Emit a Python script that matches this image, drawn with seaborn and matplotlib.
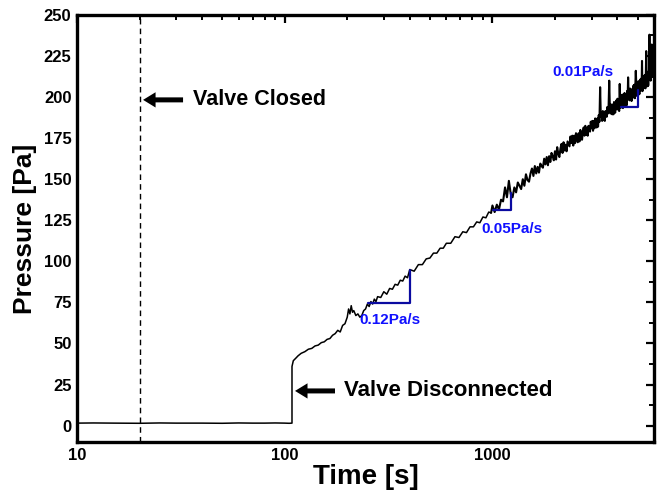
import numpy as np
import pandas as pd
import matplotlib
matplotlib.use("Agg")
import matplotlib.pyplot as plt
import seaborn as sns
from matplotlib.ticker import FixedLocator, MultipleLocator, LogLocator, NullFormatter

# ---------------- data ----------------
t_flat = [10, 12, 15, 20, 25, 30, 40, 50, 60, 70, 80, 90, 100, 105, 108.4]
p_flat = [1.5, 1.6, 1.5, 1.4, 1.6, 1.5, 1.5, 1.4, 1.6, 1.5, 1.5, 1.6, 1.5, 1.4, 1.5]

t_rise = [108.4, 110, 113, 116, 120, 125, 130, 135, 140, 145, 150, 155, 160, 165, 170,
          175, 180, 185, 190, 195, 200, 203, 206, 209, 212, 215, 220, 225, 230, 235,
          240, 245, 250, 255, 260, 265, 270, 275, 280, 290, 300, 310, 320, 330, 340,
          350, 360, 370, 380, 390, 400, 420, 440, 460, 480, 500, 520, 540, 560, 580,
          600, 630, 660, 690, 720, 750, 780, 810, 840, 870, 900, 930, 960, 985]
p_rise = [36, 39.5, 41, 42.5, 44, 45, 46.5, 47, 48.5, 49, 50.5, 51, 52.5, 53, 55,
          56, 58, 57, 61, 62, 66, 71, 68, 73, 69, 70, 67, 68, 66, 67,
          70, 71, 74, 72.5, 75.5, 74, 77, 75.5, 78.5, 78, 81.5, 80, 83.5, 83, 86,
          85.5, 88.5, 88, 91, 90, 95, 94, 98, 98, 101.5, 102, 105, 105, 108, 108,
          111, 111, 115, 114.5, 118, 117.5, 121, 121, 124, 123.5, 127, 126.5, 130, 129.5]

# late segment sampled every 25 s from 1000 s to 5900 s
t_late_start, t_late_step = 1000, 25
p_late = [134, 130, 134.5, 131.5, 137.5, 136.5, 145, 139,
          149, 141, 139, 145, 142, 148, 146, 144,
          150, 146, 153, 149.5, 148.5, 153.5, 156.5, 152,
          158, 153.5, 157.5, 154, 159.5, 158, 157, 162.5,
          159, 163.5, 158.5, 164, 160.5, 166, 164, 161.5,
          167, 162, 169.5, 165.5, 163.5, 168.5, 171.5, 166,
          172.5, 167.5, 171, 167, 173, 171.5, 170, 176,
          172, 176.5, 170.5, 176.5, 172, 178, 175.5, 172.5,
          178, 173, 180, 176, 174, 179, 181.5, 176.5,
          182.5, 177, 181, 176.5, 182.5, 181, 179, 185,
          181, 185.5, 179.5, 185.5, 181, 187, 184.5, 181.5,
          187, 182, 189, 185, 206, 188, 190.5, 185.5,
          191.5, 186, 190, 185.5, 191.5, 190, 188, 194,
          190, 194.5, 210, 194, 190, 195.5, 192.5, 189.5,
          195.5, 189.5, 197, 192.5, 190.5, 195.5, 198, 192.5,
          199, 192.5, 197, 191.5, 208, 196.3, 193.5, 201,
          195.5, 201.5, 193.3, 200.6, 195.2, 202.5, 198.5, 194.6,
          201.8, 195, 203.7, 198.4, 212, 201.7, 204.7, 198,
          205.2, 198.5, 202.9, 197.6, 204.8, 202.3, 199.7, 207,
          201.6, 207.5, 199.3, 206.6, 216, 208.5, 204.5, 200.6,
          207.8, 201, 209.7, 204.4, 201.8, 207.7, 210.7, 204,
          211.2, 204.5, 222, 203.6, 210.8, 208.3, 205.7, 213,
          207.6, 213.5, 205.3, 212.6, 228, 214.5, 210.5, 206.6,
          213.8, 207, 215.7, 210.4, 238, 213.7, 216.7, 210,
          220, 213.5, 232, 212.5, 222]
t_late = list(t_late_start + t_late_step * np.arange(len(p_late)))

# slope triangles and labels
tri_x = [[252, 401, 401], [1003, 1229, 1229], [4147, 5005, 5005]]
tri_y = [[74.7, 74.7, 94.8], [131.3, 131.3, 141.7], [194.2, 194.2, 204.4]]
slope_labels = ["0.12Pa/s", "0.05Pa/s", "0.01Pa/s"]
slope_label_pos = [(230, 64.3), (887, 119.5), (1950, 215.5)]

valve_closed_t = 20
y_ticks = [0, 25, 50, 75, 100, 125, 150, 175, 200, 225, 250]
x_ticks = [10, 100, 1000]
x_ticklabels = ["10", "100", "1000"]

# ---------------- plotting ----------------
sns.set_theme(style="white")
plt.rcParams['font.family'] = ['Liberation Sans', 'DejaVu Sans']
plt.rcParams['font.weight'] = 'bold'
plt.rcParams['text.color'] = 'black'
plt.rcParams['axes.labelcolor'] = 'black'
plt.rcParams['xtick.color'] = 'black'
plt.rcParams['ytick.color'] = 'black'

df_early = pd.DataFrame({"t": list(t_flat) + list(t_rise),
                         "p": list(p_flat) + list(p_rise)})
df_late = pd.DataFrame({"t": [t_rise[-1]] + t_late, "p": [p_rise[-1]] + list(p_late)})

fig = plt.figure(figsize=(6.61, 4.92), dpi=100)
ax = fig.add_axes([0.1165, 0.1016, 0.873, 0.868])

sns.lineplot(data=df_early, x="t", y="p", ax=ax, color="black", linewidth=1.1,
             estimator=None, sort=False)
sns.lineplot(data=df_late, x="t", y="p", ax=ax, color="black", linewidth=1.5,
             estimator=None, sort=False)

ax.set_xscale("log")
ax.set_xlim(10, 6000)
ax.set_ylim(-10, 250)

ax.axvline(valve_closed_t, color="black", lw=1.0, ls=(0, (4, 3)))

blue_line = "#0a0aa0"
blue_text = "#1010ff"
for xs, ys in zip(tri_x, tri_y):
    sns.lineplot(x=xs, y=ys, ax=ax, color=blue_line, lw=1.6, estimator=None, sort=False)
for lab, (lx, ly) in zip(slope_labels, slope_label_pos):
    ax.text(lx, ly, lab, color=blue_text, fontsize=11, fontweight="bold",
            ha="left", va="center")

arrow_style = dict(arrowstyle="simple,head_length=0.45,head_width=0.55,tail_width=0.18",
                   color="black", lw=0, mutation_scale=20, shrinkA=0, shrinkB=0)
ax.annotate("", xy=(20.8, 198.3), xytext=(32.4, 198.3), arrowprops=arrow_style)
ax.text(36.2, 198.3, "Valve Closed", fontsize=15.5, fontweight="bold",
        color="black", ha="left", va="center")
ax.annotate("", xy=(112.1, 21.1), xytext=(174.6, 21.1), arrowprops=arrow_style)
ax.text(193, 21.1, "Valve Disconnected", fontsize=16, fontweight="bold",
        color="black", ha="left", va="center")

ax.set_xlabel("Time [s]", fontsize=20, fontweight="bold", labelpad=1, color="black")
ax.set_ylabel("Pressure [Pa]", fontsize=19, fontweight="bold", labelpad=5, color="black")

ax.xaxis.set_major_locator(FixedLocator(x_ticks))
ax.set_xticklabels(x_ticklabels)
ax.xaxis.set_minor_locator(LogLocator(base=10, subs=np.arange(2, 10), numticks=20))
ax.xaxis.set_minor_formatter(NullFormatter())
ax.yaxis.set_major_locator(FixedLocator(y_ticks))
ax.yaxis.set_minor_locator(MultipleLocator(12.5))

ax.tick_params(axis="both", which="major", direction="in", length=6, width=1.6,
               labelsize=12, top=True, right=True, pad=4, colors="black")
ax.tick_params(axis="both", which="minor", direction="in", length=3.5, width=1.4,
               top=True, right=True, colors="black")
for lab in ax.get_xticklabels() + ax.get_yticklabels():
    lab.set_fontweight("bold")

for s in ax.spines.values():
    s.set_visible(True)
    s.set_color("black")
    s.set_linewidth(2.4)

fig.savefig("out.png", dpi=100)
